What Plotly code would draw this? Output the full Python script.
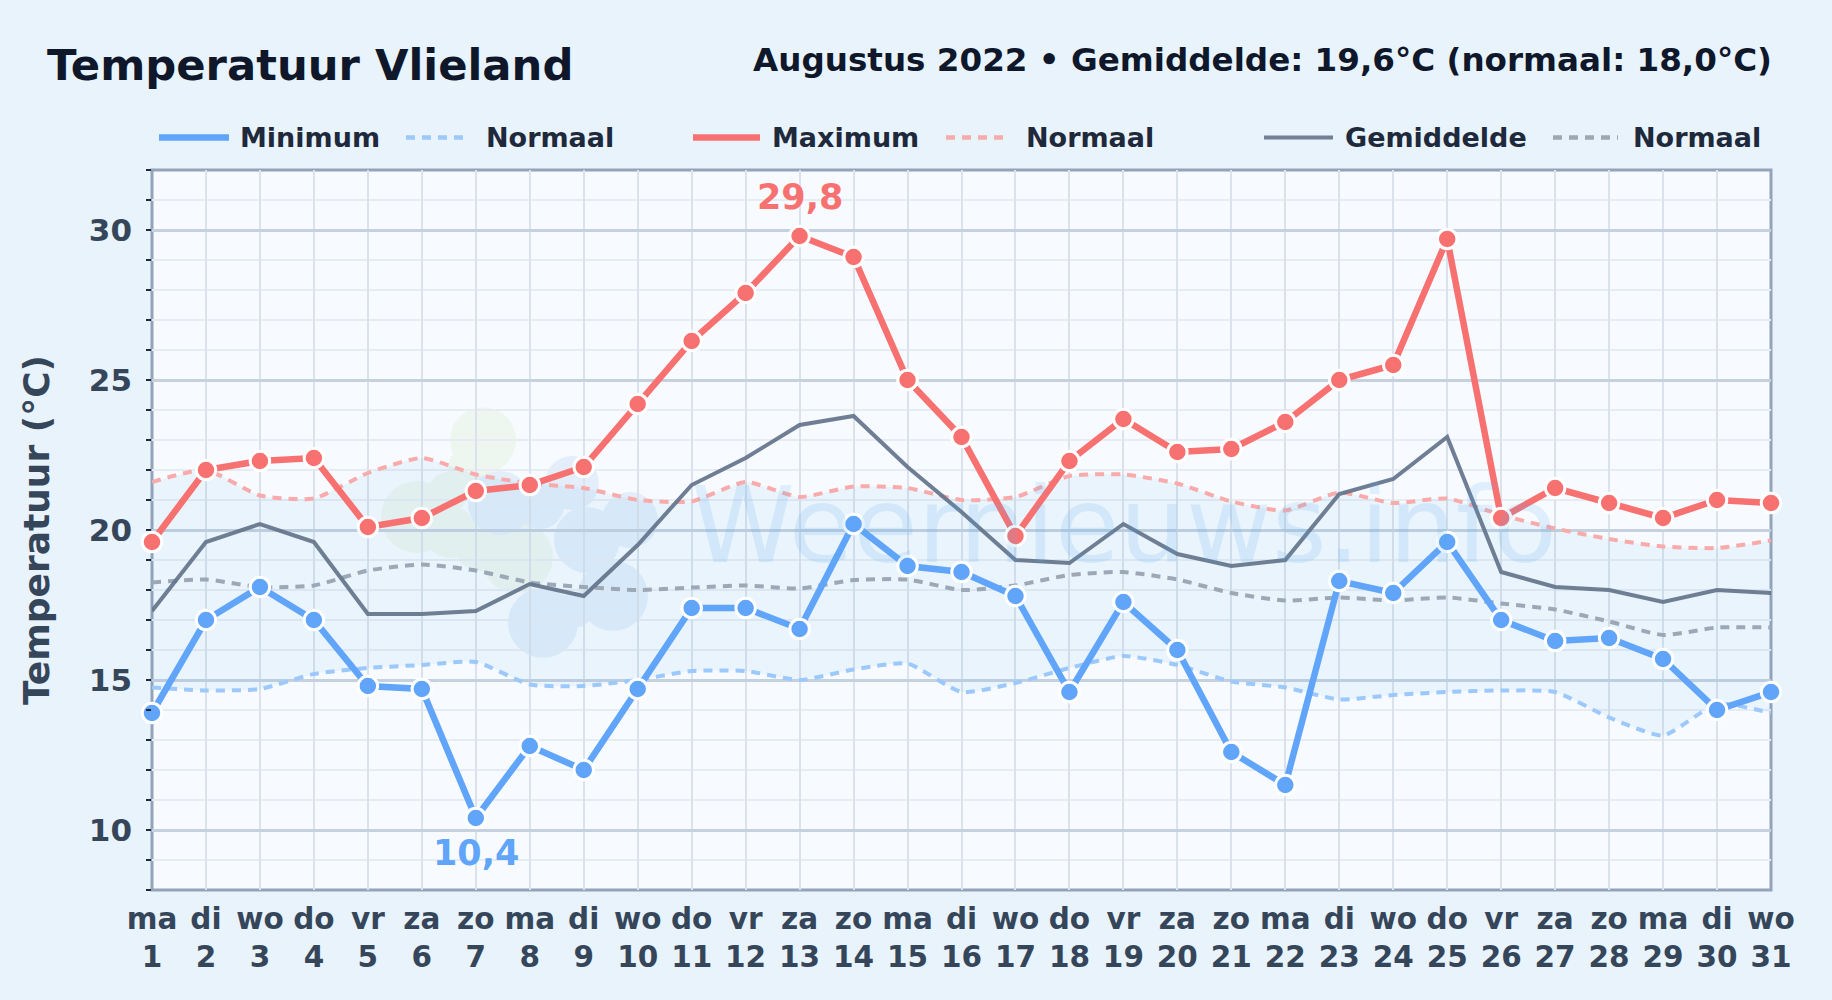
import plotly.graph_objects as go

DAY_NAMES = ["ma","di","wo","do","vr","za","zo","ma","di","wo","do","vr","za","zo","ma","di","wo","do","vr","za","zo","ma","di","wo","do","vr","za","zo","ma","di","wo"]
DAYS = list(range(1, 32))
T_MIN = [13.9,17.0,18.1,17.0,14.8,14.7,10.4,12.8,12.0,14.7,17.4,17.4,16.7,20.2,18.8,18.6,17.8,14.6,17.6,16.0,12.6,11.5,18.3,17.9,19.6,17.0,16.3,16.4,15.7,14.0,14.6]
T_MAX = [19.6,22.0,22.3,22.4,20.1,20.4,21.3,21.5,22.1,24.2,26.3,27.9,29.8,29.1,25.0,23.1,19.8,22.3,23.7,22.6,22.7,23.6,25.0,25.5,29.7,20.4,21.4,20.9,20.4,21.0,20.9]
T_AVG = [17.3,19.6,20.2,19.6,17.2,17.2,17.3,18.2,17.8,19.5,21.5,22.4,23.5,23.8,22.1,20.6,19.0,18.9,20.2,19.2,18.8,19.0,21.2,21.7,23.1,18.6,18.1,18.0,17.6,18.0,17.9]
N_MIN = [14.75,14.65,14.7,15.2,15.4,15.5,15.6,14.85,14.8,15.0,15.3,15.3,15.0,15.35,15.55,14.6,14.9,15.4,15.8,15.5,14.95,14.75,14.35,14.5,14.6,14.65,14.6,13.75,13.15,14.2,13.9]
N_MAX = [21.6,22.0,21.15,21.05,21.9,22.4,21.85,21.55,21.4,21.0,20.95,21.6,21.1,21.45,21.4,21.0,21.1,21.8,21.85,21.55,20.95,20.65,21.25,20.9,21.05,20.5,20.05,19.7,19.45,19.4,19.65]
N_AVG = [18.25,18.35,18.1,18.15,18.65,18.85,18.65,18.25,18.1,18.0,18.08,18.15,18.05,18.33,18.35,18.0,18.15,18.5,18.6,18.35,17.9,17.65,17.75,17.65,17.75,17.55,17.35,16.95,16.5,16.75,16.75]
TICK_LABELS = [f"{n}<br>{d}" for n, d in zip(DAY_NAMES, DAYS)]

W, H = 1832, 1000
L, R, T, B = 152, 1771, 169.5, 890.5
FONT = "DejaVu Sans"
BLUE, RED, GREY = "#60a5fa", "#f87171", "#64748b"
N_BLUE, N_RED, N_GREY = "#9cc8fb", "#f9aaaa", "#9ca8b6"
DASH = "9px,7px"

def ax(x): return (x - L) / (R - L)
def ay(y): return (B - y) / (B - T)

fig = go.Figure()
common = dict(x=DAYS, hoverinfo="skip", showlegend=False, cliponaxis=False)
smooth = dict(shape="spline", smoothing=0.55)
fig.add_trace(go.Scatter(y=N_MIN, mode="lines", line=dict(color=N_BLUE, width=4, dash=DASH, **smooth), **common))
fig.add_trace(go.Scatter(y=N_MAX, mode="lines", line=dict(color=N_RED, width=4, dash=DASH, **smooth),
                         fill="tonexty", fillcolor="rgba(80,165,235,0.08)", **common))
fig.add_trace(go.Scatter(y=N_AVG, mode="lines", line=dict(color=N_GREY, width=4, dash=DASH, **smooth), **common))
fig.add_trace(go.Scatter(y=T_AVG, mode="lines", line=dict(color=GREY, width=4), opacity=0.92, **common))
for vals, col in ((T_MIN, BLUE), (T_MAX, RED)):
    fig.add_trace(go.Scatter(y=vals, mode="lines+markers", line=dict(color=col, width=6.5),
                             marker=dict(color=col, size=19.5, line=dict(color="white", width=3)), **common))

# watermark logo: opaque pale lobes, so overlaps do not darken
GREEN_LOBES = [(483, 440, 33), (470, 468, 22), (448, 492, 20), (417, 517, 36), (450, 532, 26), (480, 545, 26), (517, 557, 36)]
BLUE_LOBES = [(500, 503, 32), (540, 505, 24), (572, 483, 27), (587, 540, 33), (630, 520, 28),
              (613, 596, 35), (543, 623, 35), (575, 610, 18)]
shapes = []
for lobes, col in ((GREEN_LOBES, "#eef6f0"), (BLUE_LOBES, "#e3eefa")):
    for cx, cy, r in lobes:
        shapes.append(dict(type="circle", xref="paper", yref="paper", layer="below",
                           x0=ax(cx - r), x1=ax(cx + r), y0=ay(cy + r), y1=ay(cy - r),
                           fillcolor=col, line=dict(width=0)))

# plot frame, under the marks as in the reference
shapes.append(dict(type="rect", xref="paper", yref="paper", layer="between", x0=0, x1=1, y0=0, y1=1,
                   fillcolor="rgba(0,0,0,0)", line=dict(color="#94a3b8", width=3)))

# hand-laid legend row
LEG_Y = ay(137)
legend_lines = [(159, 229, BLUE, 6.5, None, "Minimum", 237.5),
                (406, 464, N_BLUE, 4.5, DASH, "Normaal", 483.5),
                (693, 760, RED, 6.5, None, "Maximum", 769.5),
                (946, 1007, N_RED, 4.5, DASH, "Normaal", 1023.5),
                (1264, 1333, "#718096", 4, None, "Gemiddelde", 1342.5),
                (1553, 1618, N_GREY, 4.5, DASH, "Normaal", 1630.5)]
annotations = []
for x0, x1, col, w, dash, label, tx in legend_lines:
    shapes.append(dict(type="line", xref="paper", yref="paper", x0=ax(x0), x1=ax(x1), y0=LEG_Y, y1=LEG_Y,
                       line=dict(color=col, width=w, dash=dash)))
    annotations.append(dict(xref="paper", yref="paper", x=ax(tx), y=LEG_Y, xanchor="left", yanchor="middle",
                            text=label, showarrow=False, font=dict(family=FONT, size=27, color="#1e293b", weight="bold")))

annotations += [
    dict(xref="paper", yref="paper", x=ax(44.5), y=ay(64), xanchor="left", yanchor="middle", showarrow=False,
         text="Temperatuur Vlieland", font=dict(family=FONT, size=43.3, color="#0f172a", weight="bold")),
    dict(xref="paper", yref="paper", x=ax(1774), y=ay(59), xanchor="right", yanchor="middle", showarrow=False,
         text="Augustus 2022 • Gemiddelde: 19,6°C (normaal: 18,0°C)",
         font=dict(family=FONT, size=32.6, color="#0f172a", weight="bold")),
    dict(xref="paper", yref="paper", x=ax(1124), y=ay(526), xanchor="center", yanchor="middle", showarrow=False,
         text="Weernieuws.info", font=dict(family=FONT, size=105, color="rgba(80,165,235,0.15)")),
    dict(x=T_MAX.index(max(T_MAX)) + 1, y=max(T_MAX), yshift=39, showarrow=False, text="29,8",
         font=dict(family=FONT, size=35, color=RED, weight="bold")),
    dict(x=T_MIN.index(min(T_MIN)) + 1, y=min(T_MIN), yshift=-35, showarrow=False, text="10,4",
         font=dict(family=FONT, size=35, color=BLUE, weight="bold")),
]

fig.update_layout(
    width=W, height=H, autosize=False,
    margin=dict(l=L, r=W - R, t=T, b=H - B, pad=0),
    paper_bgcolor="#e8f3fc", plot_bgcolor="#f7fbff",
    showlegend=False, shapes=shapes, annotations=annotations,
    xaxis=dict(range=[1, 31], tickmode="array", tickvals=DAYS, ticktext=TICK_LABELS,
               showgrid=True, gridcolor="#dbe2ec", gridwidth=2, zeroline=False, ticks="",
               showline=False, ticklabelstandoff=8,
               tickfont=dict(family=FONT, size=29.5, color="#36465a", weight="bold"), tickangle=0),
    yaxis=dict(range=[8, 32], tickmode="array", tickvals=[10, 15, 20, 25, 30], ticktext=["10", "15", "20", "25", "30"],
               showgrid=True, gridcolor="#c6d1df", gridwidth=2.5, zeroline=False, ticks="",
               showline=False, ticklabelstandoff=19,
               tickfont=dict(family=FONT, size=31, color="#36465a", weight="bold"),
               minor=dict(dtick=1, tick0=8, showgrid=True, gridcolor="#e7ecf3", gridwidth=2, ticks="outside",
                          ticklen=5, tickwidth=1.5, tickcolor="#1e293b"),
               title=dict(text="Temperatuur (°C)", standoff=28,
                          font=dict(family=FONT, size=36, color="#36465a", weight="bold"))),
)
fig.write_html("out.html", config={"displayModeBar": False}, post_script="document.body.style.margin='0';")
